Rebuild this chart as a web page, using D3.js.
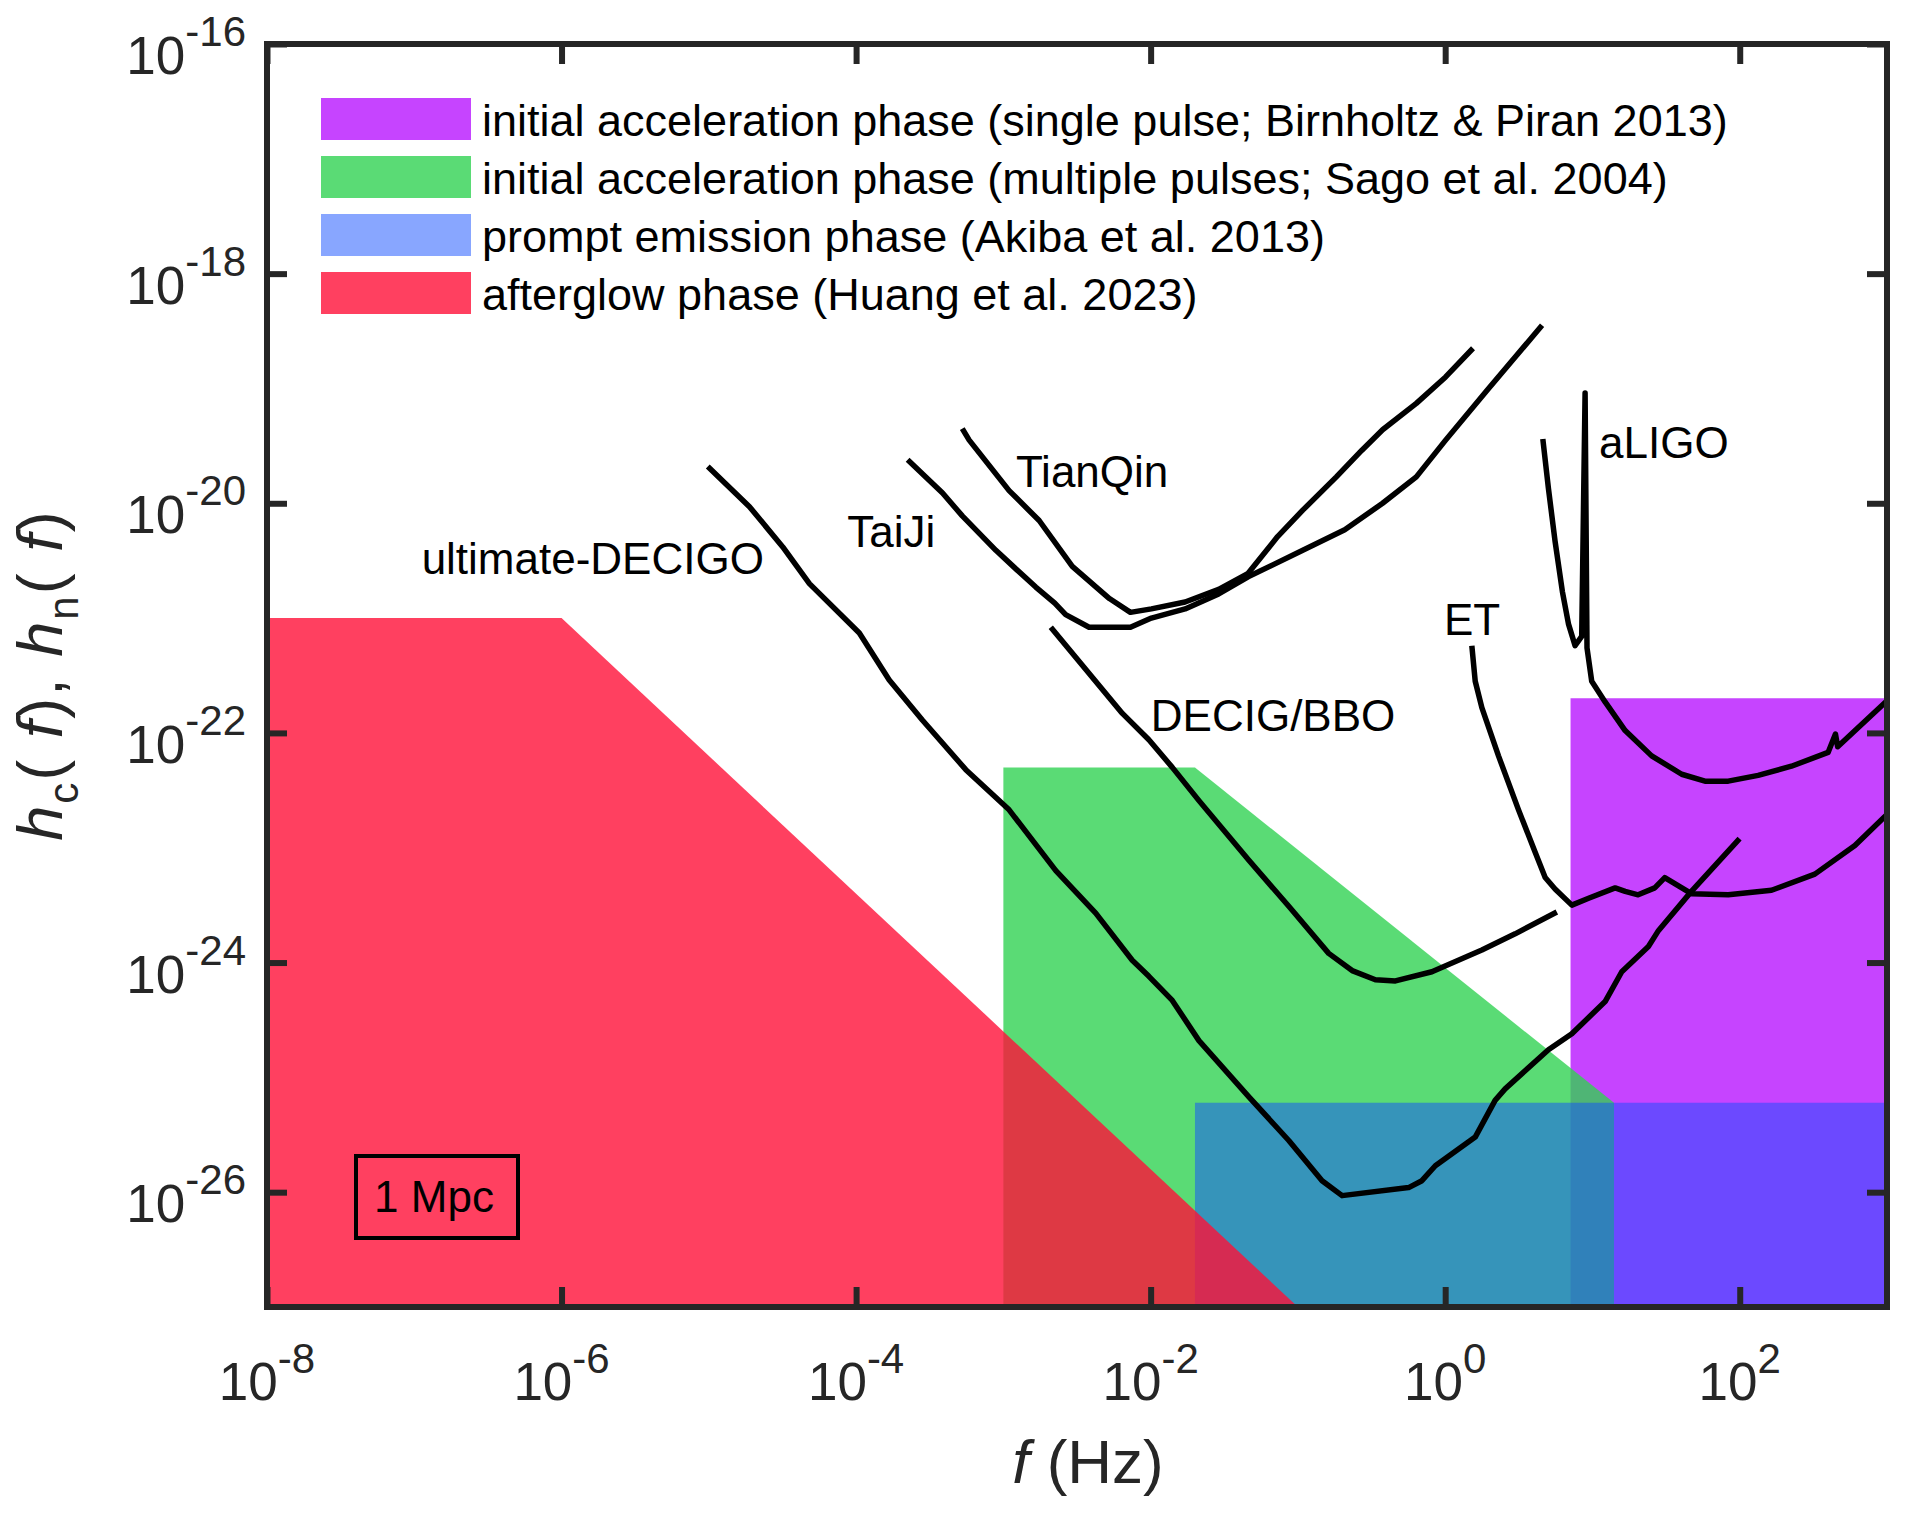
<!DOCTYPE html>
<html>
<head>
<meta charset="utf-8">
<script src="https://cdn.jsdelivr.net/npm/d3@7"></script>
<style>
  body { margin: 0; background: #fff; }
  text { font-family: "Liberation Sans", Arial, Helvetica, sans-serif; }
</style>
</head>
<body>
<div id="chart"></div>
<script>
var width = 1913,
    height = 1517;

var margin = {top: 44, right: 24, bottom: 210, left: 267};

// ---- data -------------------------------------------------------------

// axis ticks (even decades only)
var xTicks = [1e-8, 1e-6, 1e-4, 1e-2, 1e0, 1e2];
var xTickExp = ["-8", "-6", "-4", "-2", "0", "2"];
var yTicks = [1e-16, 1e-18, 1e-20, 1e-22, 1e-24, 1e-26];
var yTickExp = ["-16", "-18", "-20", "-22", "-24", "-26"];

// shaded regions, vertices as [f (Hz), h]
var singlePulse = [[7.1, 1e-27], [7.1, 2e-22], [1e3, 2e-22], [1e3, 1e-27]];
var multiPulse = [[1e-3, 1e-27], [1e-3, 5e-23], [0.02, 5e-23], [14, 6e-26], [14, 1e-27]];
var promptPhase = [[0.02, 1e-27], [0.02, 6e-26], [1e3, 6e-26], [1e3, 1e-27]];
var afterglow = [[1e-8, 1e-27], [1e-8, 1e-21], [1e-6, 1e-21], [1e-1, 1e-27]];

// detector curves, points as [log10 f, log10 h]
var ultimateDecigo = [[-5.007, -19.68], [-4.724, -20.03], [-4.498, -20.38], [-4.317, -20.70],
    [-3.978, -21.13], [-3.775, -21.54], [-3.549, -21.89], [-3.255, -22.32], [-2.961, -22.67],
    [-2.644, -23.20], [-2.373, -23.57], [-2.125, -23.98], [-2.012, -24.12], [-1.853, -24.33],
    [-1.672, -24.68], [-1.333, -25.17], [-1.062, -25.55], [-0.836, -25.90], [-0.700, -26.03],
    [-0.248, -25.96], [-0.158, -25.90], [-0.067, -25.77], [0.204, -25.52], [0.339, -25.20],
    [0.407, -25.10], [0.701, -24.76], [0.860, -24.62], [1.086, -24.34], [1.199, -24.08],
    [1.380, -23.86], [1.449, -23.72], [1.672, -23.38], [1.999, -22.92]];

var decigoBbo = [[-2.678, -21.08], [-2.192, -21.83], [-2.012, -22.06], [-1.853, -22.30],
    [-1.672, -22.59], [-1.333, -23.11], [-1.062, -23.51], [-0.791, -23.92], [-0.632, -24.07],
    [-0.474, -24.15], [-0.338, -24.16], [-0.090, -24.08], [0.249, -23.89], [0.475, -23.75],
    [0.758, -23.56]];

var taiji = [[-3.650, -19.62], [-3.413, -19.91], [-3.279, -20.11], [-3.051, -20.41],
    [-2.908, -20.58], [-2.780, -20.73], [-2.651, -20.87], [-2.577, -20.97], [-2.418, -21.08],
    [-2.137, -21.08], [-1.995, -21.00], [-1.766, -20.92], [-1.538, -20.79], [-1.338, -20.64],
    [-0.967, -20.41], [-0.682, -20.23], [-0.425, -20.00], [-0.196, -19.77], [0.003, -19.45],
    [0.289, -19.01], [0.658, -18.45]];

var tianqin = [[-3.279, -19.35], [-3.232, -19.45], [-2.961, -19.89], [-2.757, -20.15],
    [-2.532, -20.55], [-2.280, -20.83], [-2.137, -20.95], [-1.995, -20.92], [-1.766, -20.86],
    [-1.538, -20.75], [-1.338, -20.61], [-1.138, -20.29], [-0.967, -20.06], [-0.739, -19.77],
    [-0.567, -19.54], [-0.425, -19.36], [-0.196, -19.13], [0.003, -18.90], [0.189, -18.65]];

var et = [[0.181, -21.24], [0.204, -21.55], [0.249, -21.78], [0.362, -22.20], [0.498, -22.67],
    [0.611, -23.04], [0.679, -23.26], [0.746, -23.36], [0.860, -23.50], [0.974, -23.44],
    [1.154, -23.35], [1.222, -23.38], [1.310, -23.41], [1.423, -23.35], [1.491, -23.26],
    [1.672, -23.40], [1.922, -23.41], [2.216, -23.37], [2.510, -23.23], [2.782, -22.98],
    [3.000, -22.71]];

var aligo = [[0.663, -19.44], [0.701, -19.87], [0.746, -20.33], [0.796, -20.77], [0.837, -21.05],
    [0.882, -21.24], [0.927, -21.16], [0.950, -19.04], [0.963, -21.26], [0.995, -21.55],
    [1.086, -21.73], [1.222, -21.98], [1.402, -22.20], [1.606, -22.36], [1.764, -22.42],
    [1.922, -22.42], [2.125, -22.37], [2.351, -22.29], [2.600, -22.17], [2.650, -22.01],
    [2.665, -22.12], [3.000, -21.72]];

// curve names and where they are written, as [log10 f, log10 h] of text start
var curveNames = ["ultimate-DECIGO", "TaiJi", "TianQin", "DECIG/BBO", "ET", "aLIGO"];
var curveNamePos = [[-6.95, -20.617], [-4.06, -20.379], [-2.915, -19.856],
    [-1.999, -21.980], [-0.008, -21.148], [1.045, -19.602]];

var legendLabels = [
    "initial acceleration phase (single pulse; Birnholtz & Piran 2013)",
    "initial acceleration phase (multiple pulses; Sago et al. 2004)",
    "prompt emission phase (Akiba et al. 2013)",
    "afterglow phase (Huang et al. 2023)"
];

// ---- drawing ----------------------------------------------------------

var axisColor = "#262626";

var regions = [
    {pts: singlePulse, fill: "#b815ff", alpha: 0.8},
    {pts: multiPulse, fill: "#31d253", alpha: 0.8},
    {pts: promptPhase, fill: "#114dff", alpha: 0.5},
    {pts: afterglow, fill: "#ff1038", alpha: 0.8}
];

var x = d3.scaleLog()
    .domain([1e-8, 1e3])
    .range([margin.left, width - margin.right - 2]);

var y = d3.scaleLog()
    .domain([1e-27, 1e-16])
    .range([height - margin.bottom, margin.top]);

var svg = d3.select("#chart").append("svg")
    .attr("width", width)
    .attr("height", height)
    .style("background", "#fff");

svg.append("defs").append("clipPath")
    .attr("id", "plotClip")
    .append("rect")
    .attr("x", x.range()[0])
    .attr("y", y.range()[1])
    .attr("width", x.range()[1] - x.range()[0])
    .attr("height", y.range()[0] - y.range()[1]);

var plot = svg.append("g").attr("clip-path", "url(#plotClip)");

// filled phases, first one at the bottom
var polygon = d3.line()
    .x(function (d) { return x(d[0]); })
    .y(function (d) { return y(d[1]); });

regions.forEach(function (r) {
    plot.append("path")
        .attr("d", polygon(r.pts) + "Z")
        .attr("fill", r.fill)
        .attr("fill-opacity", r.alpha);
});

// sensitivity curves
var curve = d3.line()
    .x(function (d) { return x(Math.pow(10, d[0])); })
    .y(function (d) { return y(Math.pow(10, d[1])); });

[ultimateDecigo, decigoBbo, taiji, tianqin, et, aligo].forEach(function (c) {
    plot.append("path")
        .attr("d", curve(c))
        .attr("fill", "none")
        .attr("stroke", "#000")
        .attr("stroke-width", 5.5)
        .attr("stroke-linejoin", "round")
        .attr("stroke-linecap", "butt");
});

// curve names
curveNames.forEach(function (name, i) {
    svg.append("text")
        .attr("x", x(Math.pow(10, curveNamePos[i][0])))
        .attr("y", y(Math.pow(10, curveNamePos[i][1])))
        .attr("font-size", 44)
        .attr("fill", "#000")
        .text(name);
});

// ---- axes -------------------------------------------------------------

function styleTicks(g) {
    g.select(".domain").remove();
    g.selectAll(".tick line")
        .attr("stroke", axisColor)
        .attr("stroke-width", 6);
}

svg.append("g")
    .attr("transform", "translate(0," + y.range()[0] + ")")
    .call(d3.axisBottom(x).tickValues(xTicks).tickSize(-20).tickFormat(""))
    .call(styleTicks);

svg.append("g")
    .attr("transform", "translate(0," + y.range()[1] + ")")
    .call(d3.axisTop(x).tickValues(xTicks).tickSize(-20).tickFormat(""))
    .call(styleTicks);

svg.append("g")
    .attr("transform", "translate(" + x.range()[0] + ",0)")
    .call(d3.axisLeft(y).tickValues(yTicks).tickSize(-20).tickFormat(""))
    .call(styleTicks);

svg.append("g")
    .attr("transform", "translate(" + x.range()[1] + ",0)")
    .call(d3.axisRight(y).tickValues(yTicks).tickSize(-20).tickFormat(""))
    .call(styleTicks);

// box
svg.append("rect")
    .attr("x", x.range()[0])
    .attr("y", y.range()[1])
    .attr("width", x.range()[1] - x.range()[0])
    .attr("height", y.range()[0] - y.range()[1])
    .attr("fill", "none")
    .attr("stroke", axisColor)
    .attr("stroke-width", 6);

// tick labels 10^n
xTicks.forEach(function (v, i) {
    var t = svg.append("text")
        .attr("x", x(v))
        .attr("y", y.range()[0] + 93)
        .attr("text-anchor", "middle")
        .attr("fill", axisColor)
        .attr("font-size", 53);
    t.append("tspan").text("10");
    t.append("tspan").attr("dy", -27).attr("font-size", 42).text(xTickExp[i]);
});

yTicks.forEach(function (v, i) {
    var t = svg.append("text")
        .attr("x", x.range()[0] - 21)
        .attr("y", y(v) + 30)
        .attr("text-anchor", "end")
        .attr("fill", axisColor)
        .attr("font-size", 53);
    t.append("tspan").text("10");
    t.append("tspan").attr("dy", -28).attr("font-size", 42).text(yTickExp[i]);
});

// axis titles
var xTitle = svg.append("text")
    .attr("x", 1088)
    .attr("y", 1483)
    .attr("text-anchor", "middle")
    .attr("fill", axisColor)
    .attr("font-size", 62);
xTitle.append("tspan").attr("font-style", "italic").text("f");
xTitle.append("tspan").text(" (Hz)");

var yTitle = svg.append("text")
    .attr("transform", "translate(62,675) rotate(-90)")
    .attr("text-anchor", "middle")
    .attr("fill", axisColor)
    .attr("font-size", 63)
    .attr("letter-spacing", 2);
yTitle.append("tspan").attr("font-style", "italic").text("h");
yTitle.append("tspan").attr("font-size", 42).attr("dy", 16).text("c");
yTitle.append("tspan").attr("dy", -16).text("(");
yTitle.append("tspan").attr("font-style", "italic").text(" f");
yTitle.append("tspan").text("), ");
yTitle.append("tspan").attr("font-style", "italic").text("h");
yTitle.append("tspan").attr("font-size", 42).attr("dy", 16).text("n");
yTitle.append("tspan").attr("dy", -16).text("(");
yTitle.append("tspan").attr("font-style", "italic").text(" f");
yTitle.append("tspan").text(")");

// ---- legend -----------------------------------------------------------

var legend = svg.append("g").attr("transform", "translate(321,98)");
var rowStep = 58;

legendLabels.forEach(function (label, i) {
    var row = legend.append("g").attr("transform", "translate(0," + i * rowStep + ")");
    row.append("rect")
        .attr("width", 150)
        .attr("height", 42)
        .attr("fill", regions[i].fill)
        .attr("fill-opacity", regions[i].alpha);
    row.append("text")
        .attr("x", 161)
        .attr("y", 38)
        .attr("font-size", 45)
        .attr("fill", "#000")
        .text(label);
});

// distance box
var mpc = svg.append("g").attr("transform", "translate(356,1156)");
mpc.append("rect")
    .attr("width", 162)
    .attr("height", 82)
    .attr("fill", "none")
    .attr("stroke", "#000")
    .attr("stroke-width", 4);
mpc.append("text")
    .attr("x", 78)
    .attr("y", 56)
    .attr("text-anchor", "middle")
    .attr("font-size", 44)
    .attr("fill", "#000")
    .text("1 Mpc");
</script>
</body>
</html>
